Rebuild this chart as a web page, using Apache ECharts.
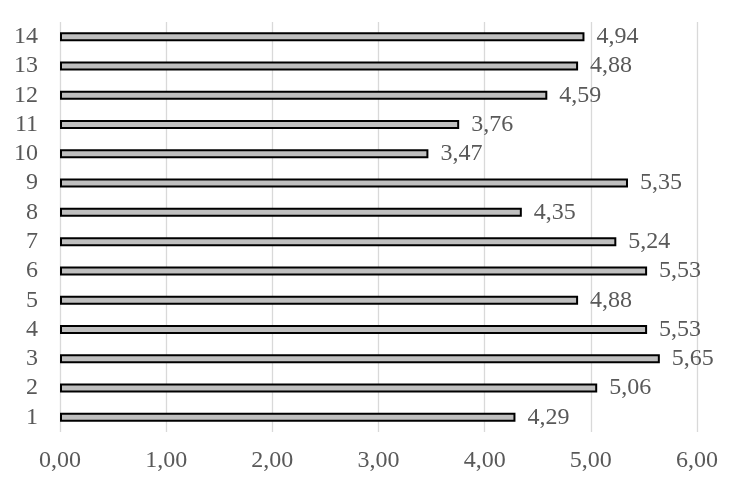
<!DOCTYPE html>
<html>
<head>
<meta charset="utf-8">
<script src="https://cdn.jsdelivr.net/npm/echarts@6/dist/echarts.min.js"></script>
<style>html,body{margin:0;padding:0;background:#fff;}#c{width:741px;height:487px;}</style>
</head>
<body>
<div id="c"></div>
<script>
var categories = ['1','2','3','4','5','6','7','8','9','10','11','12','13','14'];
var values = [4.29, 5.06, 5.65, 5.53, 4.88, 5.53, 5.24, 4.35, 5.35, 3.47, 3.76, 4.59, 4.88, 4.94];
var xTicks = [0, 1, 2, 3, 4, 5, 6];

var FF = "'Times New Roman', 'Liberation Serif', Tinos, serif";
var fmt = function (v) { return Number(v).toFixed(2).replace('.', ','); };
var chart = echarts.init(document.getElementById('c'), null, {renderer: 'canvas'});
chart.setOption({
  animation: false,
  backgroundColor: '#fff',
  textStyle: {fontFamily: FF},
  grid: {left: 60, right: 44, top: 22, bottom: 55, containLabel: false},
  xAxis: {
    type: 'value',
    min: xTicks[0], max: xTicks[xTicks.length - 1], interval: 1,
    axisLine: {show: false}, axisTick: {show: false},
    splitLine: {show: true, lineStyle: {color: '#d9d9d9', width: 1.3}},
    axisLabel: {formatter: fmt, color: '#595959', fontSize: 24, fontFamily: FF, margin: 17}
  },
  yAxis: {
    type: 'category', data: categories,
    axisLine: {show: false}, axisTick: {show: false},
    axisLabel: {interval: 0, color: '#595959', fontSize: 24, fontFamily: FF, margin: 22}
  },
  series: [{
    type: 'bar', data: values, barWidth: 9,
    itemStyle: {color: '#bfbfbf', borderColor: '#000', borderWidth: 2},
    label: {show: true, position: 'right', distance: 12, formatter: function (p) { return fmt(p.value); },
      color: '#595959', fontSize: 24, fontFamily: FF}
  }]
});
</script>
</body>
</html>
